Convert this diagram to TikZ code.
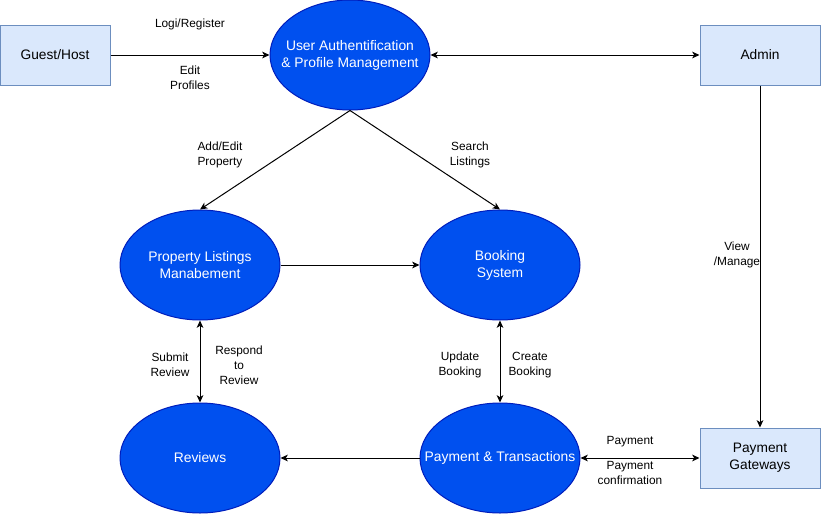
\documentclass[tikz,border=0pt]{standalone}
\usepackage{fontspec}
\setmainfont{Liberation Sans}
\usetikzlibrary{arrows.meta,shapes.geometric}
\definecolor{procfill}{HTML}{0050EF}
\definecolor{procdraw}{HTML}{001DBC}
\definecolor{entfill}{HTML}{DAE8FC}
\definecolor{entdraw}{HTML}{6C8EBF}
\begin{document}
\begin{tikzpicture}[x=0.75pt,y=-0.75pt,
  proc/.style={ellipse,fill=procfill,draw=procdraw,line width=0.75pt,minimum width=120pt,minimum height=82.5pt,inner sep=0pt,text=white,font=\fontsize{10.4}{12.75}\selectfont,align=center},
  ent/.style={rectangle,fill=entfill,draw=entdraw,line width=0.75pt,minimum height=45pt,inner sep=0pt,font=\fontsize{10.3}{12.75}\selectfont,align=center},
  conn/.style={line width=0.75pt,-{Stealth[length=5.5pt,width=5pt,inset=1.5pt]}},
  biconn/.style={line width=0.75pt,{Stealth[length=5.5pt,width=5pt,inset=1.5pt]}-{Stealth[length=5.5pt,width=5pt,inset=1.5pt]}},
  lbl/.style={font=\fontsize{8.9}{11.25}\selectfont,align=center,inner sep=1pt}]
\useasboundingbox (0,0) rectangle (821,514);
\node[ent,minimum width=82.5pt] (guest) at (55,55) {Guest/Host};
\node[ent,minimum width=90pt] (admin) at (760,55) {Admin};
\node[ent,minimum width=90pt] (gate) at (760,458) {Payment\\Gateways};
\node[proc] (ua) at (350,55) {\makebox[0pt]{User Authentification}\\\makebox[0pt]{\& Profile Management}};
\node[proc] (pl) at (200,265) {Property Listings\\Manabement};
\node[proc] (bs) at (500,265) {Booking\\System};
\node[proc] (rv) at (200,458) {Reviews};
\node[proc] (pt) at (500,458) {\makebox[0pt]{Payment \& Transactions}};

\draw[conn] (guest) -- (ua);
\draw[biconn] (ua) -- (admin);
\draw[conn] (admin) -- (gate);
\draw[conn] (ua.south) -- (pl.north);
\draw[conn] (ua.south) -- (bs.north);
\draw[conn] (pl) -- (bs);
\draw[biconn] (pl) -- (rv);
\draw[biconn] (bs) -- (pt);
\draw[conn] (pt) -- (rv);
\draw[biconn] (pt) -- (gate);

\node[lbl] (l1) at (190,24) {Logi/Register};
\node[lbl] (l2) at (190,78) {Edit\\Profiles};
\node[lbl] (l3) at (737,255) {View\\/Manage};
\node[lbl] (l4) at (220,155) {Add/Edit\\Property};
\node[lbl] (l5) at (470,155) {Search\\Listings};
\node[lbl] (l6) at (170,365) {Submit\\Review};
\node[lbl] (l7) at (239,365) {Respond\\to\\Review};
\node[lbl] (l8) at (460,365) {Update\\Booking};
\node[lbl] (l9) at (530,365) {Create\\Booking};
\node[lbl] (l10) at (630,442) {Payment};
\node[lbl] (l11) at (630,473) {Payment\\confirmation};
\end{tikzpicture}
\end{document}
